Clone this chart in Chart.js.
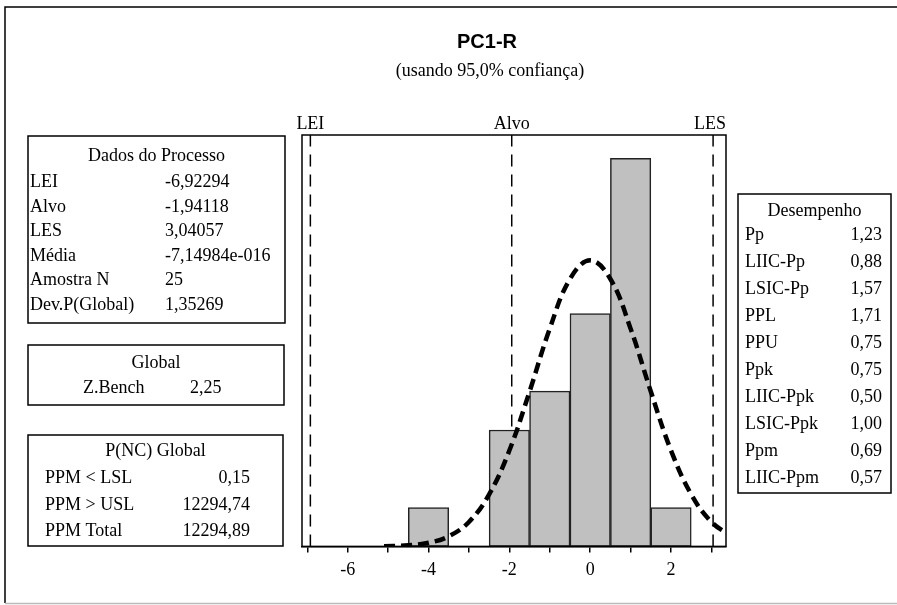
<!DOCTYPE html>
<html>
<head>
<meta charset="utf-8">
<script src="https://cdn.jsdelivr.net/npm/chart.js@4"></script>
<style>
  body { margin: 0; background: #fff; }
  canvas { display: block; }
</style>
</head>
<body>
<canvas id="chart" width="897" height="605"></canvas>
<script>
// Histogramm (Klassenmitten und Häufigkeiten)
const binCenters = [-4, -3, -2, -1, 0, 1, 2];
const binCounts = [1, 0, 3, 4, 6, 10, 1];

// Normalkurve
const curveX = [-5.1, -4.5, -4, -3.5, -3, -2.5, -2, -1.5, -1, -0.5, 0, 0.5, 1, 1.5, 2, 2.5, 3, 3.5];
const curveY = [0.006, 0.029, 0.093, 0.26, 0.63, 1.34, 2.47, 3.99, 5.61, 6.89, 7.37, 6.89, 5.61, 3.99, 2.47, 1.34, 0.63, 0.26];

// Spezifikationsgrenzen
const specNames = ["LEI", "Alvo", "LES"];
const specValues = [-6.92294, -1.94118, 3.04057];

const xTickLabels = [-6, -4, -2, 0, 2];

// Textboxen
const processLabels = ["LEI", "Alvo", "LES", "Média", "Amostra N", "Dev.P(Global)"];
const processValues = ["-6,92294", "-1,94118", "3,04057", "-7,14984e-016", "25", "1,35269"];
const globalLabels = ["Z.Bench"];
const globalValues = ["2,25"];
const ppmLabels = ["PPM < LSL", "PPM > USL", "PPM Total"];
const ppmValues = ["0,15", "12294,74", "12294,89"];
const perfLabels = ["Pp", "LIIC-Pp", "LSIC-Pp", "PPL", "PPU", "Ppk", "LIIC-Ppk", "LSIC-Ppk", "Ppm", "LIIC-Ppm"];
const perfValues = ["1,23", "0,88", "1,57", "1,71", "0,75", "0,75", "0,50", "1,00", "0,69", "0,57"];

const serif = "'Liberation Serif', 'Times New Roman', serif";
const yMax = 10.6;

const specDatasets = specValues.map((v) => ({
  type: "line",
  data: [{ x: v, y: 0 }, { x: v, y: yMax }],
  borderColor: "#000",
  borderWidth: 1.5,
  borderDash: [12, 8],
  pointRadius: 0,
  order: 3,
}));

// Zeichnet Rahmen, Titel und Textboxen
const extras = {
  id: "extras",
  beforeDraw(chart) {
    const c = chart.ctx;
    c.save();
    c.fillStyle = "#fff";
    c.fillRect(0, 0, chart.width, chart.height);
    c.restore();
  },
  afterDraw(chart) {
    const c = chart.ctx;
    const a = chart.chartArea;
    const xs = chart.scales.x;
    c.save();

    // äusserer Rahmen
    c.strokeStyle = "#000";
    c.lineWidth = 1.5;
    c.beginPath();
    c.moveTo(5, 603);
    c.lineTo(5, 7);
    c.lineTo(897, 7);
    c.stroke();
    c.strokeStyle = "#bbb";
    c.beginPath();
    c.moveTo(5, 603.5);
    c.lineTo(897, 603.5);
    c.stroke();

    // Rahmen um Plot
    c.strokeStyle = "#000";
    c.lineWidth = 1.5;
    c.strokeRect(a.left, a.top, a.right - a.left, a.bottom - a.top);

    // Titel
    c.fillStyle = "#000";
    c.textAlign = "center";
    c.textBaseline = "alphabetic";
    c.font = "bold 20px 'Liberation Sans', Arial, sans-serif";
    c.fillText("PC1-R", 487, 48);
    c.font = "18px " + serif;
    c.fillText("(usando 95,0% confiança)", 490, 76);

    // Beschriftung der Grenzen
    specNames.forEach((name, i) => {
      let px = xs.getPixelForValue(specValues[i]);
      const w = c.measureText(name).width;
      if (px + w / 2 > a.right) px = a.right - w / 2;
      c.fillText(name, px, 129);
    });

    function box(x1, y1, x2, y2, title, titleY, labels, values, lx, vx, alignRight, y0, step) {
      c.strokeStyle = "#000";
      c.lineWidth = 1.5;
      c.strokeRect(x1, y1, x2 - x1, y2 - y1);
      c.textAlign = "center";
      c.fillText(title, (x1 + x2) / 2, titleY);
      labels.forEach((l, i) => {
        c.textAlign = "left";
        c.fillText(l, lx, y0 + i * step);
        c.textAlign = alignRight ? "right" : "left";
        c.fillText(values[i], vx, y0 + i * step);
      });
    }

    c.font = "18px " + serif;
    box(28, 136, 285, 323, "Dados do Processo", 161, processLabels, processValues, 30, 165, false, 187, 24.5);
    box(28, 345, 284, 405, "Global", 368, globalLabels, globalValues, 83, 190, false, 393, 25);
    box(28, 435, 283, 546, "P(NC) Global", 456, ppmLabels, ppmValues, 45, 250, true, 483, 26.5);
    box(738, 194, 891, 493, "Desempenho", 216, perfLabels, perfValues, 745, 882, true, 240, 27);

    c.restore();
  },
};

const canvas = document.querySelector("#chart");
const ctx = canvas.getContext("2d");

new Chart(ctx, {
  type: "bar",
  data: {
    datasets: [
      {
        type: "line",
        data: curveX.map((x, i) => ({ x: x, y: curveY[i] })),
        borderColor: "#000",
        borderWidth: 4.5,
        borderDash: [11, 6],
        pointRadius: 0,
        tension: 0.4,
        fill: false,
        order: 1,
      },
      {
        type: "bar",
        data: binCenters.map((x, i) => ({ x: x, y: binCounts[i] })),
        backgroundColor: "#c0c0c0",
        borderColor: "#222",
        borderWidth: 1.5,
        borderSkipped: false,
        barPercentage: 1,
        categoryPercentage: 1,
        order: 2,
      },
      ...specDatasets,
    ],
  },
  options: {
    responsive: false,
    animation: false,
    layout: { padding: { left: 302, right: 171, top: 135, bottom: 17 } },
    scales: {
      x: {
        type: "linear",
        min: -7.13,
        max: 3.36,
        offset: false,
        grid: { offset: false, drawOnChartArea: false, color: "#000", tickLength: 6, lineWidth: 1.5 },
        border: { color: "#000", width: 1.5 },
        ticks: {
          stepSize: 1,
          includeBounds: false,
          padding: 7,
          color: "#000",
          font: { family: serif, size: 18 },
          maxRotation: 0,
          autoSkip: false,
          callback: (v) => (xTickLabels.includes(v) ? String(v) : ""),
        },
      },
      y: { display: false, min: 0, max: yMax },
    },
    plugins: {
      legend: { display: false },
      tooltip: { enabled: false },
    },
  },
  plugins: [extras],
});
</script>
</body>
</html>
